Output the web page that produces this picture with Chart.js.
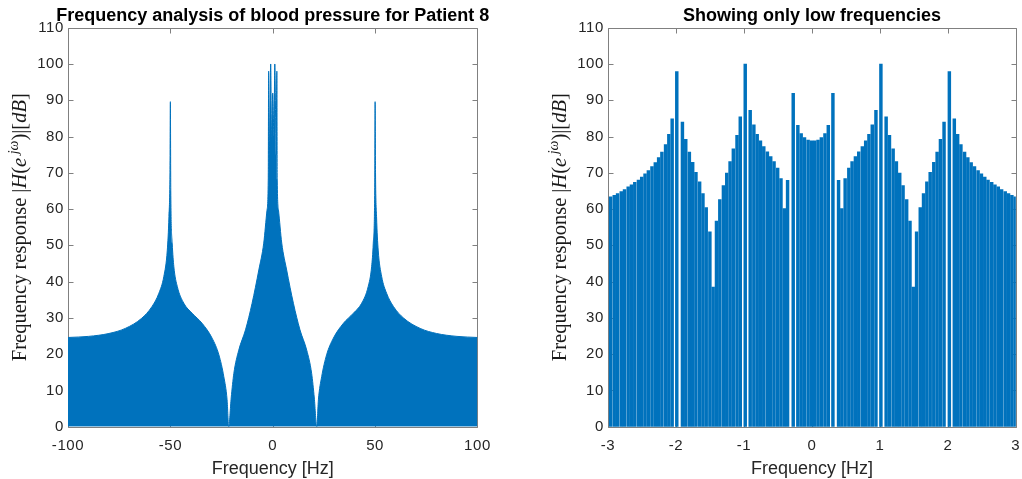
<!DOCTYPE html>
<html>
<head>
<meta charset="utf-8">
<script src="https://cdn.jsdelivr.net/npm/chart.js@4.4.0/dist/chart.umd.min.js"></script>
<style>
html, body { margin:0; padding:0; background:#fff; overflow:hidden; width:1022px; height:479px; }
#full { position:absolute; left:0; top:0; }
#low { position:absolute; left:500px; top:0; }
</style>
</head>
<body>
<canvas id="full" width="500" height="479"></canvas>
<canvas id="low" width="530" height="479"></canvas>
<script>
// full spectrum, envelope of |H| in dB
var fullFreq = [-100, -90, -80, -72, -64, -59, -55.6, -53.2, -51.5, -50.7,
  -50.2, -50, -49.8, -49.1, -48.3, -46.6, -43.4, -39.4, -34.5, -29.6,
  -26.3, -23.9, -22.3, -21.5, -20.3, -19, -16.6, -13.3, -10.1, -6.8,
  -4.4, -2.8, -2.2,
  -2, -1.7, -1, -0.6, 0, 0.6, 1, 1.7, 2,
  2.2, 2.8, 4.4, 6.8, 10.1, 13.3, 16.6, 19, 20.3, 21.5,
  22.3, 23.9, 26.3, 29.6, 34.5, 39.4, 43.4, 46.6, 48.3, 49.1,
  49.8, 50, 50.2, 50.7, 51.5, 53.2, 55.6, 59, 64, 72,
  80, 90, 100]
var fullDb = [24.6, 24.9, 25.7, 27.1, 29.9, 33.1, 36.8, 41.4, 48.7, 57.9,
  70, 89.6, 65, 50.6, 44.1, 38.6, 34.0, 31.3, 28.5, 24.4,
  19.8, 13.8, 7.4, 0, 7.9, 14.7, 21.1, 26.7, 34.0, 43.2,
  50.6, 59.7, 68,
  98, 75, 100, 80, 92, 80, 100, 75, 98,
  68, 59.7, 50.6, 43.2, 34.0, 26.7, 21.1, 14.7, 7.9, 0,
  7.4, 13.8, 19.8, 24.4, 28.5, 31.3, 34.0, 38.6, 44.1, 50.6,
  65, 89.6, 70, 57.9, 48.7, 41.4, 36.8, 33.1, 29.9, 27.1,
  25.7, 24.9, 24.6]

// low band, one entry per spike top
var lowFreq = [-2.961, -2.908, -2.859, -2.805, -2.757, -2.703, -2.655, -2.606, -2.552, -2.504,
  -2.455, -2.406, -2.353, -2.304, -2.255, -2.207, -2.153, -2.105, -2.056, -1.988,
  -1.905, -1.856, -1.803, -1.754, -1.706, -1.652, -1.603, -1.555, -1.501, -1.453,
  -1.404, -1.355, -1.302, -1.253, -1.204, -1.156, -1.102, -1.054, -0.981, -0.908,
  -0.854, -0.805, -0.757, -0.708, -0.655, -0.606, -0.557, -0.504, -0.455, -0.406,
  -0.358, -0.275, -0.207, -0.158, -0.109, -0.056, -0.007,
  0.041, 0.090, 0.139, 0.192, 0.241, 0.309,
  0.392, 0.440, 0.489, 0.543, 0.591, 0.640, 0.689, 0.742, 0.791, 0.839,
  0.888, 0.942, 1.015, 1.092, 1.141, 1.195, 1.243, 1.292, 1.341, 1.394,
  1.443, 1.491, 1.540, 1.594, 1.642, 1.691, 1.740, 1.793, 1.842, 1.891,
  1.944, 2.022, 2.095, 2.144, 2.192, 2.246, 2.294, 2.343, 2.392, 2.445,
  2.494, 2.543, 2.591, 2.645, 2.693, 2.742, 2.791, 2.844, 2.893, 2.942,
  2.990]
var lowDb = [63.4, 63.8, 64.3, 64.8, 65.4, 66.1, 66.7, 67.4, 68.0, 68.8,
  69.7, 70.6, 71.7, 72.8, 74.2, 75.7, 77.8, 80.6, 84.9, 97.9,
  84.0, 79.2, 75.7, 72.9, 70.1, 67.5, 64.3, 60.4, 53.7, 38.5,
  56.7, 62.6, 66.5, 69.9, 73.1, 76.6, 80.3, 85.4, 100, 87.2,
  83.2, 80.6, 78.8, 77.2, 75.8, 74.5, 73.1, 71.3, 68.4, 60.1,
  67.9, 91.9, 83.1, 80.8, 79.7, 79.0, 78.8,
  78.8, 79.0, 79.7, 80.8, 83.1, 91.9,
  67.9, 60.1, 68.4, 71.3, 73.1, 74.5, 75.8, 77.2, 78.8, 80.6,
  83.2, 87.2, 100, 85.4, 80.3, 76.6, 73.1, 69.9, 66.5, 62.6,
  56.7, 38.5, 53.7, 60.4, 64.3, 67.5, 70.1, 72.9, 75.7, 79.2,
  84.0, 97.9, 84.9, 80.6, 77.8, 75.7, 74.2, 72.8, 71.7, 70.6,
  69.7, 68.8, 68.0, 67.4, 66.7, 66.1, 65.4, 64.8, 64.3, 63.8,
  63.4]

var blue = '#0072BD'
var tickFont = { family: '"Liberation Sans", Arial, sans-serif', size: 15 }

function pairs(xs, ys) {
  return xs.map(function(x, i) { return { x: x, y: ys[i] } })
}

// latex-ish y label, drawn in pieces so italics and the superscript work
function drawYLabel(ctx, x, y) {
  var size = 20.5
  var parts = [
    { t: 'Frequency response ' }, { t: '|' }, { t: 'H', it: true }, { t: '(' },
    { t: 'e', it: true }, { t: ' jω', it: true, sup: true }, { t: ')|' },
    { t: '[' }, { t: 'dB', it: true }, { t: ']' }
  ]
  function font(p) {
    return (p.it ? 'italic ' : '') + (p.sup ? size * 0.68 : size) + 'px "Liberation Serif", serif'
  }
  ctx.save()
  ctx.letterSpacing = '0px'
  ctx.translate(x, y)
  ctx.rotate(-Math.PI / 2)
  var total = 0
  parts.forEach(function(p) { ctx.font = font(p); p.w = ctx.measureText(p.t).width; total += p.w })
  var cx = -total / 2
  ctx.fillStyle = '#1a1a1a'
  ctx.textAlign = 'left'
  ctx.textBaseline = 'alphabetic'
  parts.forEach(function(p) {
    ctx.font = font(p)
    ctx.fillText(p.t, cx, 7 + (p.sup ? -8.5 : 0))
    cx += p.w
  })
  ctx.restore()
}

var boxPlugin = {
  id: 'box',
  beforeDraw: function(chart) {
    chart.ctx.letterSpacing = '0.6px'
  },
  beforeDatasetsDraw: function(chart) {
    var ctx = chart.ctx, a = chart.chartArea
    var sx = chart.scales.x, sy = chart.scales.y
    var L = Math.round(a.left) + 0.5, R = Math.round(a.right) + 0.5
    var T = Math.round(a.top) + 0.5, B = Math.round(a.bottom) + 0.5
    ctx.save()
    ctx.strokeStyle = '#808080'
    ctx.lineWidth = 1
    ctx.beginPath()
    ctx.rect(L, T, R - L, B - T)
    sx.ticks.forEach(function(t) {
      var px = Math.round(sx.getPixelForValue(t.value)) + 0.5
      ctx.moveTo(px, T); ctx.lineTo(px, T + 5)
      ctx.moveTo(px, B); ctx.lineTo(px, B - 5)
    })
    sy.ticks.forEach(function(t) {
      var py = Math.round(sy.getPixelForValue(t.value)) + 0.5
      ctx.moveTo(L, py); ctx.lineTo(L + 5, py)
      ctx.moveTo(R, py); ctx.lineTo(R - 5, py)
    })
    ctx.stroke()
    ctx.restore()
  },
  afterDraw: function(chart) {
    var o = chart.options.plugins.box
    var ctx = chart.ctx, a = chart.chartArea
    var mid = (a.left + a.right) / 2
    ctx.save()
    ctx.letterSpacing = '0px'
    ctx.textAlign = 'center'
    ctx.textBaseline = 'alphabetic'
    ctx.fillStyle = '#000'
    ctx.font = 'bold 18px "Liberation Sans", Arial, sans-serif'
    ctx.fillText(o.title, mid, 20.5)
    ctx.fillStyle = '#262626'
    ctx.font = '18px "Liberation Sans", Arial, sans-serif'
    ctx.fillText('Frequency [Hz]', mid, 474)
    ctx.restore()
    drawYLabel(ctx, o.ylabelX, (a.top + a.bottom) / 2)
  }
}

function axes(xmin, xmax, xstep, yWidth) {
  return {
    x: {
      type: 'linear', min: xmin, max: xmax, offset: false,
      afterFit: function(s) { s.height = 52.3 },
      grid: { display: false, drawTicks: false }, border: { display: false },
      ticks: { stepSize: xstep, font: tickFont, color: '#262626', padding: 10, maxRotation: 0 }
    },
    y: {
      min: 0, max: 110,
      afterFit: function(s) { s.width = yWidth },
      grid: { display: false, drawTicks: false }, border: { display: false },
      ticks: { stepSize: 10, font: tickFont, color: '#262626', padding: 4 }
    }
  }
}

var fullChart = new Chart(document.getElementById('full'), {
  type: 'line',
  data: {
    datasets: [{
      data: pairs(fullFreq, fullDb),
      borderColor: blue, backgroundColor: blue, borderWidth: 1,
      pointRadius: 0, fill: 'origin', cubicInterpolationMode: 'monotone'
    }]
  },
  options: {
    responsive: false, animation: false, devicePixelRatio: 1,
    layout: { padding: { left: 0, top: 27.7, right: 21, bottom: 0 } },
    plugins: {
      legend: { display: false }, tooltip: { enabled: false },
      box: { title: 'Frequency analysis of blood pressure for Patient 8', ylabelX: 19 }
    },
    scales: axes(-100, 100, 50, 68)
  },
  plugins: [boxPlugin]
})

var lowChart = new Chart(document.getElementById('low'), {
  type: 'bar',
  data: {
    datasets: [{
      data: pairs(lowFreq, lowDb),
      backgroundColor: blue, borderWidth: 0, barThickness: 2.8
    }]
  },
  options: {
    responsive: false, animation: false, devicePixelRatio: 1,
    layout: { padding: { left: 0, top: 27.7, right: 11, bottom: 0 } },
    plugins: {
      legend: { display: false }, tooltip: { enabled: false },
      box: { title: 'Showing only low frequencies', ylabelX: 59 }
    },
    scales: axes(-3, 3, 1, 108)
  },
  plugins: [boxPlugin]
})
</script>
</body>
</html>
